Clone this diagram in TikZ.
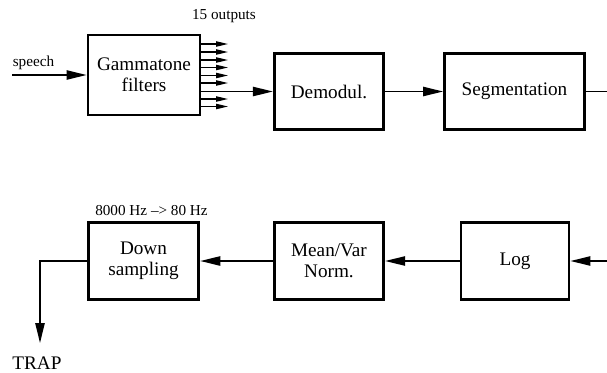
\documentclass[tikz,border=0pt]{standalone}
\usepackage{fontspec}
\setmainfont{Liberation Serif}
\usetikzlibrary{arrows.meta}
\tikzset{
	blockstyle/.style={draw=black, line width=2.2pt, fill=white, align=center,
		inner sep=0pt, font=\fontsize{14.4}{16}\selectfont},
	labelstyle/.style={inner sep=0pt, font=\fontsize{11.4}{13}\selectfont},
	bigarrow/.style={line width=1.1pt, -{Triangle[length=15pt, width=7pt]}},
	smallarrow/.style={line width=0.9pt, -{Triangle[length=9pt, width=4pt]}},
	plainline/.style={line width=1.1pt}
}

\begin{document}
\begin{tikzpicture}[x=0.75pt, y=-0.75pt]
	\useasboundingbox (0,0) rectangle (607,372);
	\node[blockstyle, minimum width=84pt, minimum height=60pt] (gamma) at (144,75) {Gammatone\\filters};
	\node[blockstyle, minimum width=82pt, minimum height=57.5pt] (demod) at (329,91.5) {Demodul.};
	\node[blockstyle, minimum width=105pt, minimum height=57.5pt] (seg) at (514.5,91.5) {Segmentation};
	\node[blockstyle, minimum width=83pt, minimum height=58pt] (down) at (143.5,261) {Down\\sampling};
	\node[blockstyle, minimum width=82pt, minimum height=58pt] (norm) at (329,261) {Mean/Var\\Norm.};
	\node[blockstyle, minimum width=81pt, minimum height=58pt] (log) at (515,261) {Log};
	\node[labelstyle] (speech) at (33.5,63) {speech};
	\node[labelstyle] (outputs) at (224,16) {15 outputs};
	\node[labelstyle] (rate) at (151.5,211) {8000 Hz --> 80 Hz};
	\node[inner sep=0pt, font=\fontsize{14.4}{16}\selectfont] (trap) at (37,363) {TRAP};
	\coordinate (speechin) at (12,75);
	\coordinate (segout) at (607,91.5);
	\coordinate (login) at (607,261);
	\coordinate (trapend) at (40,343);
	% filter outputs
	\foreach \y [count=\i] in {44,52,60,67.5,75.5,83,99,106.5}{
		\coordinate (out\i) at (228,\y);
		\draw[smallarrow] (gamma.east |- out\i) -- (out\i);
	}
	\draw[bigarrow] (speechin) -- (gamma.west |- speechin);
	\draw[bigarrow] (gamma.east |- demod.west) -- (demod.west);
	\draw[bigarrow] (demod.east) -- (seg.west);
	\draw[plainline] (seg.east) -- (segout);
	\draw[bigarrow] (login) -- (log.east);
	\draw[bigarrow] (log.west) -- (norm.east);
	\draw[bigarrow] (norm.west) -- (down.east);
	\draw[bigarrow] (down.west) -| (trapend);
\end{tikzpicture}
\end{document}
